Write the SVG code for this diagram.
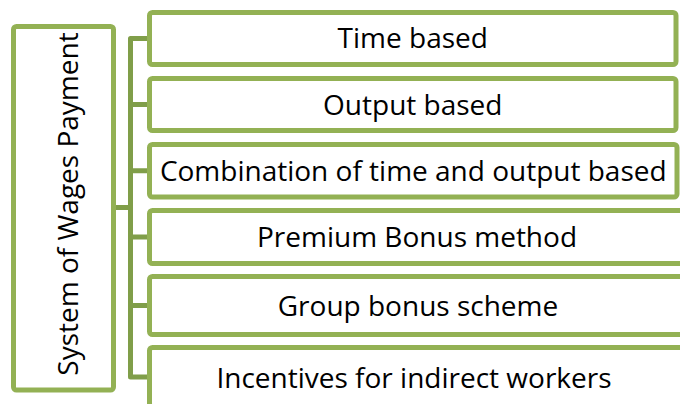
<svg xmlns="http://www.w3.org/2000/svg" width="680" height="404" viewBox="0 0 680 404">
<style>
.box{fill:#ffffff;stroke:#93b154;stroke-width:5}
.conn{fill:none;stroke:#809e49;stroke-width:5;stroke-linejoin:round}
.lbl{font-family:"Open Sans","Noto Sans","Liberation Sans",sans-serif;font-size:28px;fill:#000000;text-anchor:middle}
</style>
<rect width="680" height="404" fill="#ffffff"/>
<g id="connectors">
<path class="conn" d="M147,38.5 H130.5 V377 H147"/>
<path class="conn" d="M130.5,104.5 H147 M130.5,170.75 H147 M130.5,237 H147 M130.5,305.5 H147 M116,207.5 H130.5"/>
</g>
<g id="root">
<rect class="box" x="13.5" y="26.5" width="100" height="363.5" rx="3"/>
<text class="lbl" transform="translate(78,204) rotate(-90)" x="0" y="0">System of Wages Payment</text>
</g>
<g id="n1">
<rect class="box" x="149.5" y="12.5" width="526.5" height="52" rx="3"/>
<text class="lbl" x="412.75" y="47.5">Time based</text>
</g>
<g id="n2">
<rect class="box" x="149.5" y="78.5" width="526.5" height="52" rx="3"/>
<text class="lbl" x="412.75" y="114.5">Output based</text>
</g>
<g id="n3">
<rect class="box" x="149.5" y="144.5" width="527.5" height="52.5" rx="3"/>
<text class="lbl" x="413.25" y="181">Combination of time and output based</text>
</g>
<g id="n4">
<rect class="box" x="149.5" y="210.5" width="535" height="53" rx="3"/>
<text class="lbl" x="417" y="247">Premium Bonus method</text>
</g>
<g id="n5">
<rect class="box" x="149.5" y="276.5" width="535" height="58" rx="3"/>
<text class="lbl" x="418" y="315.5">Group bonus scheme</text>
</g>
<g id="n6">
<rect class="box" x="149.5" y="347.5" width="535" height="59" rx="3"/>
<text class="lbl" x="414" y="387.5">Incentives for indirect workers</text>
</g>
</svg>
